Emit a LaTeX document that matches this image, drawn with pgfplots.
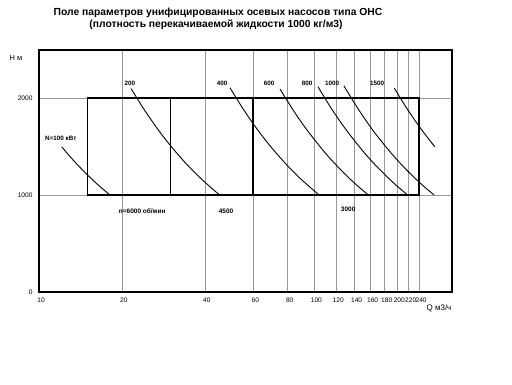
\documentclass[border=0pt]{standalone}
\usepackage{pgfplots}
\pgfplotsset{compat=1.18}
\usepackage{fontspec}
\setmainfont{Liberation Sans}
\begin{document}
\begin{tikzpicture}[x=1pt,y=1pt]
\useasboundingbox (0,0) rectangle (512,384);
\node[font=\fontsize{10.3}{12}\selectfont\bfseries] at (218,371) {Поле параметров унифицированных осевых насосов типа ОНС};
\node[font=\fontsize{10.3}{12}\selectfont\bfseries] at (216,359) {(плотность перекачиваемой жидкости 1000 кг/м3)};
\node[font=\fontsize{7.5}{9}\selectfont] at (16,326) {Н м};
\node[font=\fontsize{8}{9}\selectfont] at (439,76) {Q м3/ч};
\begin{axis}[at={(39pt,92pt)}, anchor=south west, width=413pt, height=242pt, scale only axis,
  xmode=log, xmin=10, xmax=316, ymin=0, ymax=2495,
  xtick={10,20,40,60,80,100,120,140,160,180,200,220,240},
  xticklabels={10,20,40,60,80,100,120,140,160,180,200,220,240},
  ytick={0,1000,2000}, yticklabels={0,1000,2000},
  minor xtick={}, major tick length=0pt,
  grid=major, grid style={gray!80, line width=0.5pt},
  axis line style={black, line width=1.6pt},
  tick label style={font=\fontsize{6.6}{8}\selectfont},
  xticklabel style={yshift=-2pt, xshift=2pt},
  yticklabel style={xshift=-3pt},
  clip=false]
% thick boxes
\addplot[black, line width=1.6pt] coordinates {(15,1000)(240,1000)(240,2000)(15,2000)(15,1000)};
\addplot[black, line width=1.6pt] coordinates {(30,1000)(30,2000)};
\addplot[black, line width=1.6pt] coordinates {(60,1000)(60,2000)};
% power lines
\addplot[black, line width=0.9pt, smooth] coordinates {(12.1,1496)(13,1392)(14,1293)(15,1207)(16,1131)(17,1065)(18.1,1000)};
\addplot[black, line width=0.9pt, smooth] coordinates {(21.6,2097)(24,1888)(27,1678)(30,1510)(34,1332)(38,1192)(42,1079)(45.3,1000)};
\addplot[black, line width=0.9pt, smooth] coordinates {(49.4,2105)(55,1891)(62,1677)(70,1486)(80,1300)(90,1156)(104,1000)};
\addplot[black, line width=0.9pt, smooth] coordinates {(75,2093)(85,1847)(95,1653)(110,1427)(125,1256)(140,1121)(157,1000)};
\addplot[black, line width=0.9pt, smooth] coordinates {(103,2117)(115,1896)(130,1677)(150,1453)(170,1282)(195,1118)(218,1000)};
\addplot[black, line width=0.9pt, smooth] coordinates {(128,2125)(145,1876)(165,1648)(190,1432)(215,1265)(245,1110)(272,1000)};
\addplot[black, line width=0.9pt, smooth] coordinates {(195,2103)(215,1907)(235,1745)(255,1608)(274,1496)};
% labels
\node[font=\fontsize{6.3}{7}\selectfont\bfseries] at (axis cs:12.0,1588) {N=100 кВт};
\node[font=\fontsize{6.3}{7}\selectfont\bfseries] at (axis cs:21.4,2155) {200};
\node[font=\fontsize{6.3}{7}\selectfont\bfseries] at (axis cs:46.2,2155) {400};
\node[font=\fontsize{6.3}{7}\selectfont\bfseries] at (axis cs:68.5,2155) {600};
\node[font=\fontsize{6.3}{7}\selectfont\bfseries] at (axis cs:94.1,2155) {800};
\node[font=\fontsize{6.3}{7}\selectfont\bfseries] at (axis cs:116,2155) {1000};
\node[font=\fontsize{6.3}{7}\selectfont\bfseries] at (axis cs:169,2155) {1500};
\node[font=\fontsize{6.5}{7}\selectfont\bfseries] at (axis cs:23.7,835) {n=6000 об/мин};
\node[font=\fontsize{6.5}{7}\selectfont\bfseries] at (axis cs:47.8,835) {4500};
\node[font=\fontsize{6.5}{7}\selectfont\bfseries] at (axis cs:132.6,856) {3000};
\end{axis}
\end{tikzpicture}
\end{document}
